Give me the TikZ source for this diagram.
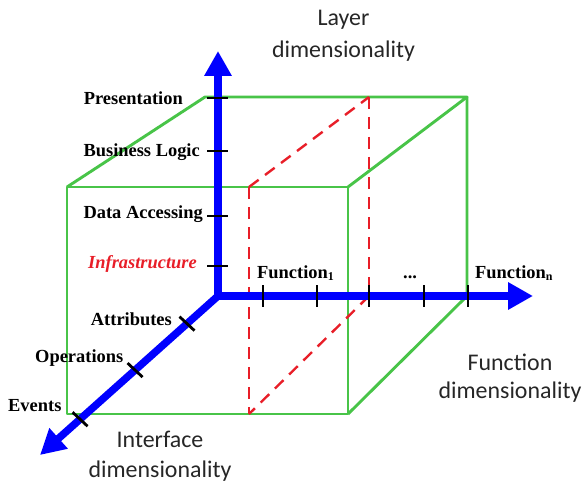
\documentclass[tikz,border=0pt]{standalone}
\usepackage{fontspec}
\setmainfont{Liberation Serif}
\newfontfamily\calfont{Carlito}
\usetikzlibrary{arrows.meta,calc}
\definecolor{cubegreen}{RGB}{72,196,72}
\definecolor{planered}{RGB}{232,30,40}
\definecolor{axisblue}{RGB}{0,0,255}
\tikzset{
  cubeedge/.style={draw=cubegreen,line width=2.9bp,line join=round},
  planeedge/.style={draw=planered,line width=2.4bp,dash pattern=on 12bp off 8bp},
  axisline/.style={draw=axisblue,line width=7.5bp,line cap=round,-{Triangle[length=25bp,width=26bp]}},
  tickmark/.style={draw=black,line width=2.8bp},
  lbl/.style={font=\bfseries\fontsize{18.5}{20}\selectfont,inner sep=0pt},
  dimlbl/.style={font=\calfont\fontsize{24}{28}\selectfont,inner sep=0pt,text=black!85}
}
\newcommand{\subx}[1]{\raisebox{-0.35ex}{\fontsize{12}{12}\selectfont #1}}
\begin{document}
\begin{tikzpicture}[x=1bp,y=-1bp]
\useasboundingbox (0,0) rectangle (584,482);
% cube corners
\coordinate (FTL) at (67,187);
\coordinate (FTR) at (348,187);
\coordinate (FBL) at (67,414);
\coordinate (FBR) at (348,414);
\coordinate (BTL) at (205,97);
\coordinate (BTR) at (467,97);
\coordinate (BBR) at (467,296);
% red plane corners
\coordinate (RTF) at (249,187);
\coordinate (RBF) at (249,414);
\coordinate (RTB) at (369,97);
\coordinate (RBB) at (369,296);
% axes
\coordinate (O) at (218,296);
\coordinate (Ytip) at (218,51);
\coordinate (Xtip) at (533,296);
\coordinate (Ztip) at (40,455);

% cube
\draw[cubeedge] (FTL) -- (FTR) -- (FBR) -- (FBL) -- cycle;
\draw[cubeedge] (FTL) -- (BTL) -- (BTR) -- (FTR);
\draw[cubeedge] (BTR) -- (BBR) -- (FBR);
% red plane
\draw[planeedge] (RTF) -- (RBF);
\draw[planeedge] (RTF) -- (RTB);
\draw[planeedge] (RTB) -- (RBB);
\draw[planeedge] (RBB) -- (RBF);

% axes
\draw[axisline] (O) -- (Ytip);
\draw[axisline] (O) -- (Xtip);
\draw[axisline] (O) -- (Ztip);

% ticks on layer axis
\foreach \yy/\nm in {98/ta,151/tb,216/tc,266/td}{
  \coordinate (\nm) at (218,\yy);
  \draw[tickmark] ($(\nm)+(-11,0)$) -- ($(\nm)+(10,0)$);
}
% ticks on function axis
\foreach \xx/\nm in {263/fa,317/fb,369/fc,424/fd,468/fe}{
  \coordinate (\nm) at (\xx,296);
  \draw[tickmark] ($(\nm)+(0,-11)$) -- ($(\nm)+(0,11)$);
}
% ticks on interface axis
\foreach \tt/\nm in {0.174/ia,0.466/ib,0.775/ic}{
  \coordinate (\nm) at ($(O)!\tt!(Ztip)$);
  \draw[tickmark] ($(\nm)+(-7.5,-7)$) -- ($(\nm)+(7.5,7)$);
}

% layer labels
\node[lbl,anchor=base east] (pres) at (183,105) {Presentation};
\node[lbl,anchor=base east] (busl) at (200,157) {Business Logic};
\node[lbl,anchor=base east] (data) at (203,219) {Data Accessing};
\node[lbl,anchor=base east,text=planered,font=\bfseries\itshape\fontsize{18.5}{20}\selectfont] (infra) at (197,268) {Infrastructure};
% interface labels
\node[lbl,anchor=base east] (attr) at (172,325) {Attributes};
\node[lbl,anchor=base west] (oper) at (35,362) {Operations};
\node[lbl,anchor=base west] (evts) at (8,411) {Events};
% function labels
\node[lbl,anchor=base west] (fun1) at (257,278) {Function\subx{1}};
\node[lbl,anchor=base west] (fdots) at (403,278) {...};
\node[lbl,anchor=base west] (funn) at (475,278) {Function\subx{n}};

% dimension labels
\node[dimlbl,anchor=base] (layA) at (343.5,26) {Layer};
\node[dimlbl,anchor=base] (layB) at (343.5,58) {dimensionality};
\node[dimlbl,anchor=base] (funA) at (510,370) {Function};
\node[dimlbl,anchor=base] (funB) at (510,398) {dimensionality};
\node[dimlbl,anchor=base] (intA) at (160,447) {Interface};
\node[dimlbl,anchor=base] (intB) at (160,477) {dimensionality};
\end{tikzpicture}
\end{document}
